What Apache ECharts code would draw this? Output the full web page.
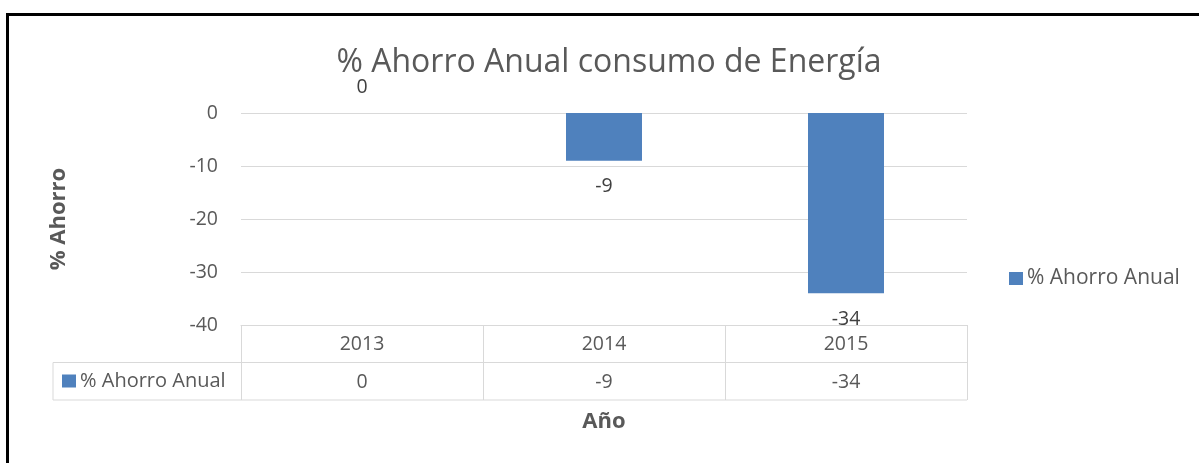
<!DOCTYPE html>
<html>
<head>
<meta charset="utf-8">
<title>% Ahorro Anual consumo de Energía</title>
<script src="https://cdn.jsdelivr.net/npm/echarts@6/dist/echarts.min.js"></script>
<style>
  html, body { margin: 0; padding: 0; background: #ffffff; }
  #chart { width: 1199px; height: 463px; }
</style>
</head>
<body>
<div id="chart"></div>
<script>
// Annual energy-consumption savings per year
const years = ['2013', '2014', '2015'];
const ahorroAnual = [0, -9, -34];
const seriesName = '% Ahorro Anual';
const yTicks = { min: -40, max: 0, interval: 10 };

const FONT = 'Open Sans';
const SMALL = 19.5;
const LEGEND_SIZE = 21;
const TEXT = '#595959';
const LINE = '#d9d9d9';
const BAR = '#4f81bd';

const chart = echarts.init(document.getElementById('chart'), null, { renderer: 'canvas' });

const grid = { left: 241, right: 232, top: 113, bottom: 138 };

const option = {
  backgroundColor: '#ffffff',
  animation: false,
  textStyle: { fontFamily: FONT },
  title: {
    text: '% Ahorro Anual consumo de Energía',
    left: 604,
    textAlign: 'center',
    top: 42,
    textStyle: { fontFamily: FONT, fontSize: 32, fontWeight: 'normal', color: TEXT }
  },
  legend: [
    {
      data: [seriesName],
      left: 1009, top: 268,
      padding: 0,
      icon: 'rect', itemWidth: 14, itemHeight: 13, itemGap: 0,
      selectedMode: false,
      textStyle: { fontFamily: FONT, fontSize: LEGEND_SIZE, color: TEXT, padding: [0, 0, 0, -1] }
    },
    {
      // legend key shown in the data-table row header
      data: [seriesName],
      left: 62, top: 371,
      padding: 0,
      icon: 'rect', itemWidth: 14, itemHeight: 13,
      selectedMode: false,
      textStyle: { fontFamily: FONT, fontSize: 20, color: TEXT, padding: [0, 0, 0, -1] }
    }
  ],
  grid: grid,
  xAxis: [
    {
      type: 'category',
      data: years,
      position: 'bottom',
      axisLine: { show: true, onZero: false, lineStyle: { color: LINE, width: 1 } },
      axisTick: { show: true, length: 75, lineStyle: { color: LINE, width: 1 } },
      axisLabel: { color: TEXT, fontFamily: FONT, fontSize: SMALL, margin: 9 },
      splitLine: { show: false },
      name: 'Año',
      nameLocation: 'middle',
      nameGap: 86,
      nameTextStyle: { fontFamily: FONT, fontSize: 22, fontWeight: 'bold', color: TEXT }
    },
    {
      // value row of the data table
      type: 'category',
      data: years,
      position: 'bottom',
      offset: 38,
      axisLine: { show: false, onZero: false },
      axisTick: { show: false },
      axisLabel: {
        color: TEXT, fontFamily: FONT, fontSize: SMALL, margin: 9,
        formatter: (v, i) => String(ahorroAnual[i])
      }
    }
  ],
  yAxis: {
    type: 'value',
    min: yTicks.min, max: yTicks.max, interval: yTicks.interval,
    axisLine: { show: false },
    axisTick: { show: false },
    axisLabel: { color: TEXT, fontFamily: FONT, fontSize: SMALL, margin: 23 },
    splitLine: { lineStyle: { color: LINE, width: 1 } },
    name: '% Ahorro',
    nameLocation: 'middle',
    nameGap: 171,
    nameRotate: 90,
    nameTextStyle: { fontFamily: FONT, fontSize: 22, fontWeight: 'bold', color: TEXT }
  },
  series: [
    {
      name: seriesName,
      type: 'bar',
      xAxisIndex: 0,
      barWidth: '31.4%',
      itemStyle: { color: BAR },
      label: {
        show: true,
        color: '#404040',
        fontFamily: FONT,
        fontSize: SMALL,
        distance: 16,
        formatter: p => String(p.value)
      },
      data: ahorroAnual.map(v => ({
        value: v,
        label: { position: v < 0 ? 'bottom' : 'top' }
      }))
    }
  ]
};

chart.setOption(option);

// Data-table lines and outer frame, placed from the axis scale
function drawTable() {
  const n = years.length;
  const topLeft = chart.convertToPixel({ gridIndex: 0 }, [0, yTicks.min]);
  const bandW = (chart.getWidth() - grid.left - grid.right) / n;
  const x1 = grid.left + bandW * n;
  const yTop = topLeft[1];
  const rowH = 37.5;
  const yMid = yTop + rowH;
  const yBot = yTop + rowH * 2;
  const headerLeft = 53;
  const ls = { stroke: LINE, lineWidth: 1 };
  const elements = [
    { type: 'line', shape: { x1: headerLeft, y1: yMid, x2: x1, y2: yMid }, style: ls, silent: true },
    { type: 'line', shape: { x1: headerLeft, y1: yBot, x2: x1, y2: yBot }, style: ls, silent: true },
    { type: 'line', shape: { x1: headerLeft, y1: yMid, x2: headerLeft, y2: yBot }, style: ls, silent: true },
    {
      type: 'rect', shape: { x: 7.5, y: 14.5, width: 1400, height: 600 },
      style: { fill: 'none', stroke: '#000000', lineWidth: 3 }, silent: true, z: 100
    }
  ];
  chart.setOption({ graphic: { elements: elements } });
}
drawTable();
</script>
</body>
</html>
